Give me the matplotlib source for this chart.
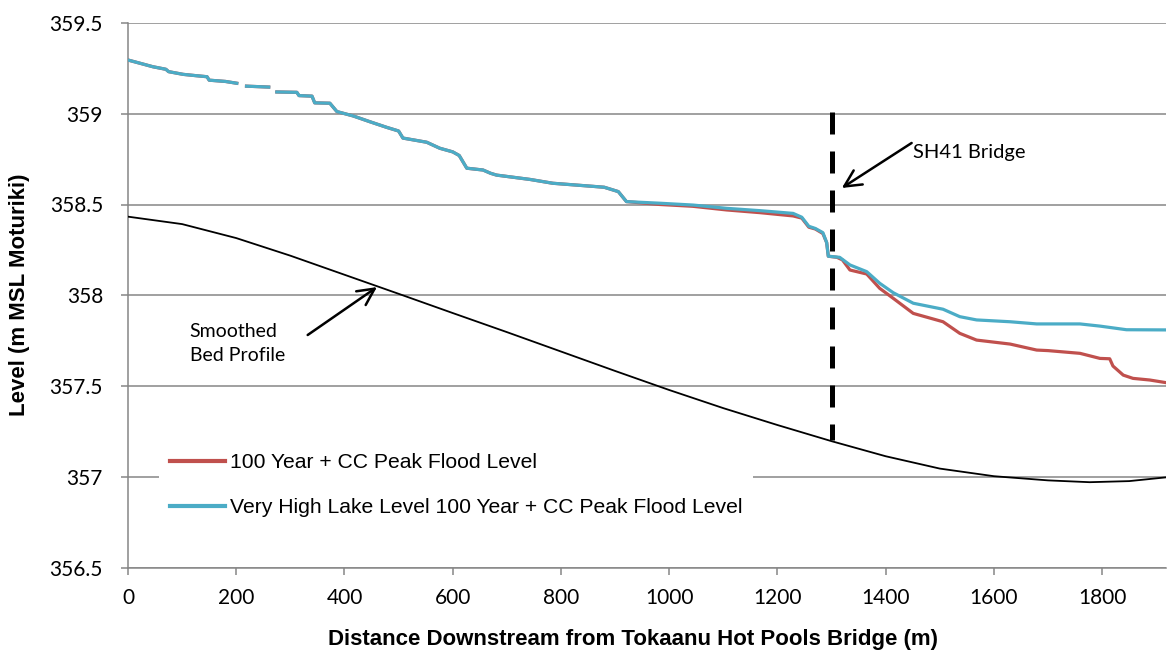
import numpy as np
import matplotlib.pyplot as plt
from matplotlib.ticker import FuncFormatter, MultipleLocator

upstream_dist = [0, 20, 46, 70, 75, 102, 125, 146, 150, 180, 201, 206,
                 214, 219, 260, 264, 271, 275, 312, 316, 340, 345, 373, 386,
                 416, 447, 478, 500, 508, 552, 576, 600, 612, 626, 656, 670,
                 681, 743, 785, 859, 880, 906, 921]
upstream_level = [359.296, 359.280, 359.259, 359.245, 359.232, 359.217, 359.210,
                  359.204, 359.185, 359.178, 359.168, np.nan,
                  np.nan, 359.152, 359.147, np.nan, np.nan, 359.120, 359.118,
                  359.100, 359.097, 359.060, 359.058, 359.012,
                  358.988, 358.956, 358.925, 358.905, 358.866, 358.843, 358.810,
                  358.790, 358.770, 358.700, 358.690, 358.672,
                  358.662, 358.638, 358.617, 358.600, 358.595, 358.571, 358.516]

cc_dist = [921, 983, 1044, 1106, 1168, 1229, 1245, 1258, 1270, 1284, 1291,
           1294, 1310, 1320, 1334, 1365, 1389, 1414, 1451, 1506, 1537, 1568,
           1630, 1679, 1700, 1759, 1796, 1814, 1820, 1839, 1857, 1888, 1919]
cc_level = [358.510, 358.500, 358.490, 358.470, 358.455, 358.437, 358.425,
            358.375, 358.365, 358.340, 358.290, 358.215, 358.209, 358.195,
            358.139, 358.117, 358.038, 357.983, 357.900, 357.854, 357.790,
            357.753, 357.731, 357.698, 357.695, 357.680, 357.652, 357.650,
            357.610, 357.560, 357.542, 357.533, 357.518]

lake_dist = [921, 983, 1044, 1106, 1168, 1229, 1245, 1258, 1270, 1284, 1291,
             1294, 1315, 1334, 1365, 1389, 1414, 1451, 1506, 1537, 1568, 1630,
             1679, 1759, 1796, 1845, 1919]
lake_level = [358.516, 358.507, 358.497, 358.479, 358.466, 358.451, 358.430,
              358.380, 358.368, 358.345, 358.290, 358.215, 358.209, 358.167,
              358.130, 358.066, 358.014, 357.956, 357.923, 357.882, 357.864,
              357.854, 357.842, 357.842, 357.830, 357.810, 357.809]

bed_dist = [0, 100, 200, 300, 400, 500, 600, 700, 800, 900, 1000, 1100,
            1200, 1300, 1400, 1500, 1600, 1700, 1777, 1850, 1919]
bed_level = [358.433, 358.392, 358.315, 358.218, 358.113, 358.008, 357.902,
             357.797, 357.690, 357.583, 357.478, 357.378, 357.285, 357.196,
             357.113, 357.045, 357.003, 356.980, 356.970, 356.976, 356.997]

bridge_dist = 1300
bridge_levels = [359.01, 357.20]

red = "#C0504D"
blue = "#4BACC6"
grey = "#868686"

fig = plt.figure(figsize=(11.68, 6.53), dpi=100)
ax = fig.add_axes([128 / 1168, 1 - 567.5 / 653, 1038 / 1168, 544.5 / 653])

ax.plot(upstream_dist + cc_dist[1:], upstream_level + cc_level[1:], color=red, lw=2.3,
        label="100 Year + CC Peak Flood Level", zorder=3)
ax.plot(upstream_dist + lake_dist[1:], upstream_level + lake_level[1:], color=blue, lw=2.3,
        label="Very High Lake Level 100 Year + CC Peak Flood Level", zorder=4)
ax.plot(bed_dist, bed_level, color="black", lw=1.3, zorder=3)
ax.plot([bridge_dist, bridge_dist], bridge_levels, color="black", lw=3.6,
        linestyle=(0, (4.4, 3.4)), zorder=5)

ax.set_xlim(0, 1918)
ax.set_ylim(356.5, 359.5)
ax.xaxis.set_major_locator(MultipleLocator(200))
ax.yaxis.set_major_locator(MultipleLocator(0.5))
ax.yaxis.set_major_formatter(FuncFormatter(lambda v, p: f"{v:g}"))

ax.yaxis.grid(True, color=grey, lw=1.1)
ax.set_axisbelow(True)
for s in ["top", "right"]:
    ax.spines[s].set_visible(False)
for s in ["left", "bottom"]:
    ax.spines[s].set_color(grey)
    ax.spines[s].set_linewidth(1.1)
ax.tick_params(direction="out", length=5, width=1.1, color=grey)
ax.tick_params(axis="y", pad=13)
ax.tick_params(axis="x", pad=10)
for lab in ax.get_xticklabels() + ax.get_yticklabels():
    lab.set_fontfamily("Lato")
    lab.set_fontsize(15)

ax.set_xlabel("Distance Downstream from Tokaanu Hot Pools Bridge (m)",
              fontsize=16, fontweight="bold", family="Liberation Sans")
ax.set_ylabel("Level (m MSL Moturiki)", fontsize=16, fontweight="bold",
              family="Liberation Sans")
ax.xaxis.set_label_coords(0.4865, -0.1125)
ax.yaxis.set_label_coords(-0.094, 0.5)

ax.annotate("", xy=(1319, 358.591), xytext=(1448, 358.839),
            arrowprops=dict(arrowstyle="->", lw=1.8, color="black",
                            mutation_scale=30, shrinkA=0, shrinkB=0))
ax.text(1450, 358.789, "SH41 Bridge", fontsize=14.5, family="Lato", va="center")

ax.annotate("", xy=(460, 358.045), xytext=(332, 357.781),
            arrowprops=dict(arrowstyle="->", lw=1.8, color="black",
                            mutation_scale=30, shrinkA=0, shrinkB=0))
ax.text(114, 357.735, "Smoothed\nBed Profile", fontsize=14, family="Lato",
        va="center", linespacing=1.5)

leg = ax.legend(loc="center left", bbox_to_anchor=(0.020, 0.1515),
                prop={"family": "Liberation Sans", "size": 15.2},
                handlelength=2.6, handletextpad=0.25, labelspacing=1.23,
                frameon=True, fancybox=False, edgecolor="none",
                facecolor="white", framealpha=1, borderpad=0.5)
for h in leg.get_lines():
    h.set_linewidth(3)

fig.savefig("out.png", dpi=100)
